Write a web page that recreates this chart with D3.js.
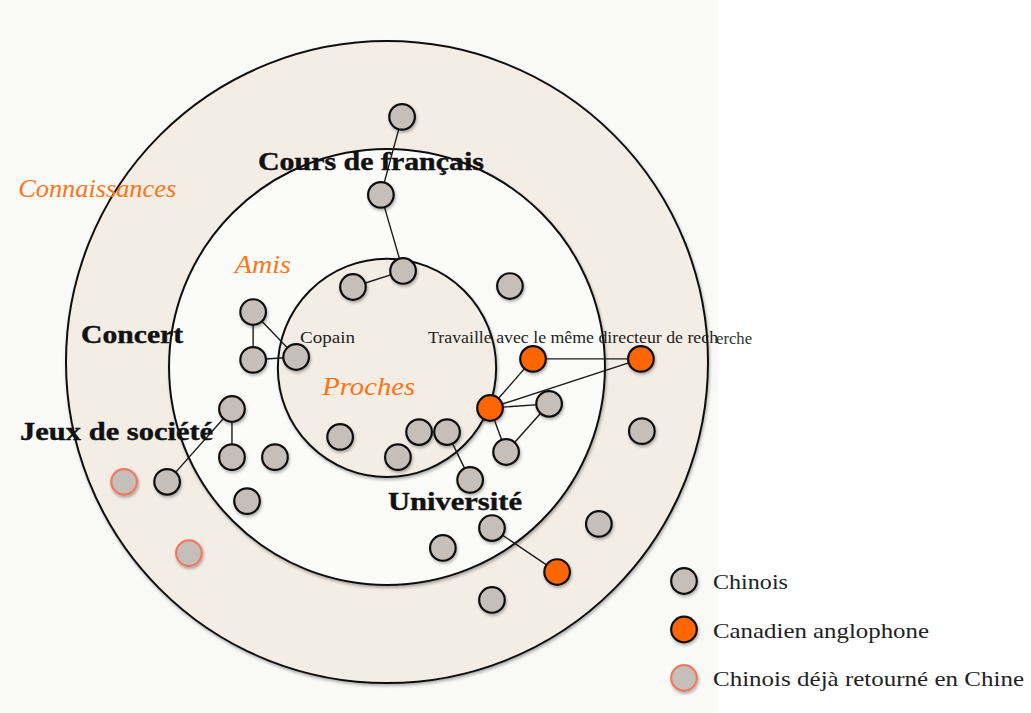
<!DOCTYPE html>
<html>
<head>
<meta charset="utf-8">
<script src="https://cdn.jsdelivr.net/npm/d3@7"></script>
<style>
  body { margin: 0; background: #fff; }
  svg { display: block; }
</style>
</head>
<body>
<div id="chart"></div>
<script>
// Rings (units: outer ring radius = 100)
const ringNames = ["Connaissances", "Amis", "Proches"];
const ringRadius = [100, 67.9, 34.0];
const ringCenterY = [-0.9, 0.6, 0.9];

// Nodes: id, x, y (same units), type
const nodeIds = d3.range(1, 32);
const nodeX = [4.7, -1.9, 5.0, -10.6, 38.3, -41.7, -41.7, -28.3, 45.5, 79.1, 32.1, 50.5, -48.3, -14.6, 10.0, 18.7,
  3.4, 37.1, 79.4, -48.3, -34.9, 25.9, -68.5, -81.9, -43.6, 32.7, 66.0, 17.4, 53.0, -61.7, 32.7];
const nodeY = [-77.3, -53.0, -29.3, -24.3, -24.6, -16.5, -1.6, -2.5, -1.9, -1.9, 13.4, 12.1, 13.7, 22.4, 20.9, 20.9,
  28.7, 27.1, 20.6, 28.7, 28.7, 35.8, 36.4, 36.4, 42.4, 50.8, 49.5, 57.0, 64.5, 58.6, 73.2];
const nodeType = ["C", "C", "C", "C", "C", "C", "C", "C", "A", "A", "A", "C", "C", "C", "C", "C",
  "C", "C", "C", "C", "C", "C", "C", "R", "C", "C", "C", "C", "A", "R", "C"];

// Links between node ids
const links = [[1, 2], [2, 3], [3, 4], [6, 7], [6, 8], [7, 8], [13, 20], [13, 23], [9, 11], [9, 10], [11, 10],
  [11, 12], [12, 18], [11, 18], [16, 22], [26, 29]];

// Context labels
const contextLabels = ["Cours de français", "Concert", "Jeux de société", "Université"];
const contextX = [-40.2, -95.3, -114.3, 0.3];
const contextY = [-60.7, -6.9, 23.4, 45.2];
const contextWidth = [226, 102, 193, 134];

const ringLabelX = [-114.9, -47.4, -20.2];
const ringLabelY = [-52.3, -28.7, 9.3];
const ringLabelWidth = [158, 56, 93];

const legendTypes = ["C", "A", "R"];
const legendLabels = ["Chinois", "Canadien anglophone", "Chinois déjà retourné en Chine"];
const legendWidth = [75, 216, 311];

const W = 1031, H = 713;
const x = d3.scaleLinear().domain([-100, 100]).range([66, 708]);
const y = d3.scaleLinear().domain([-100, 100]).range([44, 686]);
const r = d3.scaleLinear().domain([0, 100]).range([0, 321]);

const fill = d3.scaleOrdinal().domain(["C", "A", "R"]).range(["#c6beb8", "#ff6500", "#c6beb8"]);
const stroke = d3.scaleOrdinal().domain(["C", "A", "R"]).range(["#111", "#111", "#ee7a62"]);

const svg = d3.select("#chart").append("svg").attr("width", W).attr("height", H);

const defs = svg.append("defs");
defs.append("filter").attr("id", "shadow").attr("x", "-30%").attr("y", "-30%").attr("width", "160%").attr("height", "160%")
  .append("feDropShadow").attr("dx", 1).attr("dy", 2).attr("stdDeviation", 1.6)
  .attr("flood-color", "#000").attr("flood-opacity", 0.3);

// scanned page background
svg.append("rect").attr("width", 718).attr("height", H).attr("fill", "#f9f9f8");

// rings
svg.selectAll("circle.ring")
  .data(ringRadius)
  .enter().append("circle")
  .attr("class", "ring")
  .attr("cx", x(0))
  .attr("cy", (d, i) => y(ringCenterY[i]))
  .attr("r", d => r(d))
  .attr("fill", (d, i) => i === 1 ? "#fbfbfa" : "#f3ede6")
  .attr("stroke", "#111")
  .attr("stroke-width", 2)
  .attr("filter", "url(#shadow)");

const byId = new Map(nodeIds.map((id, i) => [id, i]));

// ring labels (orange italic)
svg.selectAll("text.ringlab")
  .data(ringNames)
  .enter().append("text")
  .attr("x", (d, i) => x(ringLabelX[i]))
  .attr("y", (d, i) => y(ringLabelY[i]))
  .attr("textLength", (d, i) => ringLabelWidth[i])
  .attr("lengthAdjust", "spacingAndGlyphs")
  .attr("font-family", "'Liberation Serif', serif")
  .attr("font-style", "italic")
  .attr("font-size", 26)
  .attr("fill", "#ff7417")
  .text(d => d);

// links
svg.selectAll("line.link")
  .data(links)
  .enter().append("line")
  .attr("x1", d => x(nodeX[byId.get(d[0])]))
  .attr("y1", d => y(nodeY[byId.get(d[0])]))
  .attr("x2", d => x(nodeX[byId.get(d[1])]))
  .attr("y2", d => y(nodeY[byId.get(d[1])]))
  .attr("stroke", "#1a1a1a")
  .attr("stroke-width", 1.4);

// context labels (bold)
svg.selectAll("text.ctx")
  .data(contextLabels)
  .enter().append("text")
  .attr("x", (d, i) => x(contextX[i]))
  .attr("y", (d, i) => y(contextY[i]))
  .attr("textLength", (d, i) => contextWidth[i])
  .attr("lengthAdjust", "spacingAndGlyphs")
  .attr("font-family", "'Liberation Serif', serif")
  .attr("font-weight", "bold")
  .attr("font-size", 25)
  .attr("fill", "#111")
  .attr("stroke", "#111")
  .attr("stroke-width", 0.4)
  .text(d => d);

// small relation labels
svg.append("text")
  .attr("x", x(-27.1)).attr("y", y(-6.9))
  .attr("textLength", 55).attr("lengthAdjust", "spacingAndGlyphs")
  .attr("font-family", "'Liberation Serif', serif").attr("font-size", 17).attr("fill", "#222")
  .text("Copain");
svg.append("text")
  .attr("x", x(12.8)).attr("y", y(-6.9))
  .attr("textLength", 290).attr("lengthAdjust", "spacingAndGlyphs")
  .attr("font-family", "'Liberation Serif', serif").attr("font-size", 17).attr("fill", "#222")
  .text("Travaille avec le même directeur de rech");
svg.append("text")
  .attr("x", x(102.5)).attr("y", y(-6.6))
  .attr("textLength", 36).attr("lengthAdjust", "spacingAndGlyphs")
  .attr("font-family", "'Liberation Serif', serif").attr("font-size", 16).attr("fill", "#333")
  .text("erche");

// nodes
svg.selectAll("circle.node")
  .data(nodeIds)
  .enter().append("circle")
  .attr("class", "node")
  .attr("cx", (d, i) => x(nodeX[i]))
  .attr("cy", (d, i) => y(nodeY[i]))
  .attr("r", 12.8)
  .attr("fill", (d, i) => fill(nodeType[i]))
  .attr("stroke", (d, i) => stroke(nodeType[i]))
  .attr("stroke-width", 2.2)
  .attr("filter", "url(#shadow)");

// legend
const legend = svg.append("g").attr("transform", "translate(684,581)");
const item = legend.selectAll("g")
  .data(legendTypes)
  .enter().append("g")
  .attr("transform", (d, i) => `translate(0,${i * 48.5})`);
item.append("circle")
  .attr("r", 12.8)
  .attr("fill", d => fill(d))
  .attr("stroke", d => stroke(d))
  .attr("stroke-width", 2.2)
  .attr("filter", "url(#shadow)");
item.append("text")
  .attr("x", 29)
  .attr("y", 8)
  .attr("textLength", (d, i) => legendWidth[i])
  .attr("lengthAdjust", "spacingAndGlyphs")
  .attr("font-family", "'Liberation Serif', serif")
  .attr("font-size", 22)
  .attr("fill", "#222")
  .text((d, i) => legendLabels[i]);
</script>
</body>
</html>
